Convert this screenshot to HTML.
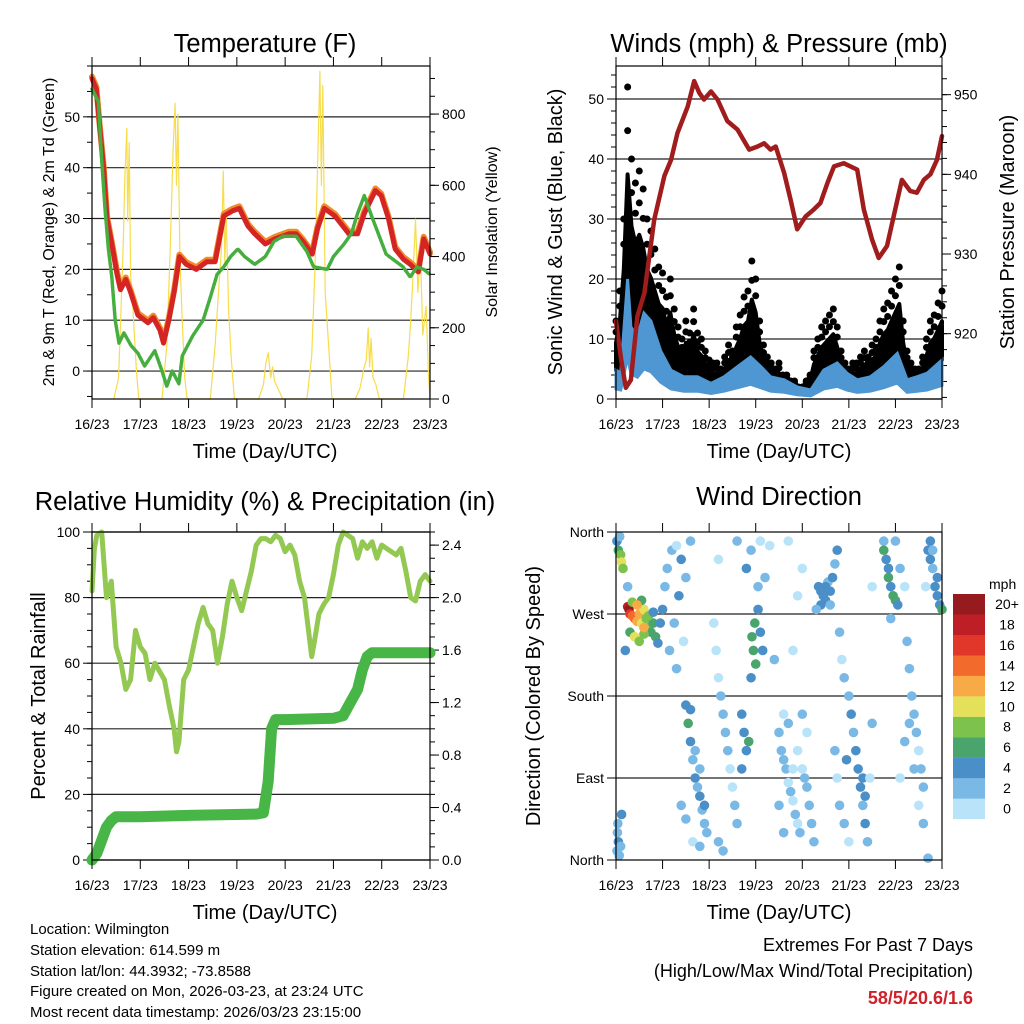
<!DOCTYPE html>
<html><head><meta charset="utf-8"><style>
html,body{margin:0;padding:0;background:#fff}
svg{display:block;font-family:"Liberation Sans",sans-serif}
</style></head><body>
<svg id="c" width="1024" height="1024" viewBox="0 0 1024 1024" xmlns="http://www.w3.org/2000/svg">
<g font-size="25.5" text-anchor="middle">
<text x="265" y="52">Temperature (F)</text>
<text x="779" y="52">Winds (mph) &amp; Pressure (mb)</text>
<text x="265" y="510">Relative Humidity (%) &amp; Precipitation (in)</text>
<text x="779" y="505">Wind Direction</text>
</g>
<g font-size="20" text-anchor="middle">
<text x="265" y="458">Time (Day/UTC)</text>
<text x="779" y="458">Time (Day/UTC)</text>
<text x="265" y="919">Time (Day/UTC)</text>
<text x="779" y="919">Time (Day/UTC)</text>
<text transform="translate(54,232) rotate(-90)" font-size="16">2m &amp; 9m T (Red, Orange) &amp; 2m Td (Green)</text>
<text transform="translate(497,232) rotate(-90)" font-size="16">Solar Insolation (Yellow)</text>
<text transform="translate(562,232) rotate(-90)">Sonic Wind &amp; Gust (Blue, Black)</text>
<text transform="translate(1014,232) rotate(-90)">Station Pressure (Maroon)</text>
<text transform="translate(45,696) rotate(-90)">Percent &amp; Total Rainfall</text>
<text transform="translate(540,696) rotate(-90)">Direction (Colored By Speed)</text>
</g>
<g font-size="15">
<text x="30" y="934">Location: Wilmington</text>
<text x="30" y="955">Station elevation: 614.599 m</text>
<text x="30" y="976">Station lat/lon: 44.3932; -73.8588</text>
<text x="30" y="996">Figure created on Mon, 2026-03-23, at 23:24 UTC</text>
<text x="30" y="1017">Most recent data timestamp: 2026/03/23 23:15:00</text>
</g>
<g font-size="18" text-anchor="end">
<text x="973" y="951">Extremes For Past 7 Days</text>
<text x="973" y="977">(High/Low/Max Wind/Total Precipitation)</text>
<text x="973" y="1004" fill="#d0202a" font-weight="bold">58/5/20.6/1.6</text>
</g>
</svg>
<script>
// ---------- DATA ----------
const dayLabels=["16/23","17/23","18/23","19/23","20/23","21/23","22/23","23/23"];
const tempT=[0,0.09,0.16,0.24,0.31,0.41,0.52,0.59,0.7,0.8,0.95,1.16,1.27,1.41,1.48,1.59,1.7,1.81,1.95,2.16,2.38,2.55,2.73,2.91,3.05,3.23,3.37,3.59,3.79,4.08,4.23,4.37,4.56,4.67,4.81,5.03,5.32,5.5,5.64,5.87,5.99,6.14,6.28,6.45,6.59,6.76,6.87,7.0];
const tempV=[57.5,55.5,48,40,30,25,19,16,18,15.5,11,9.5,10.5,8,5.5,10,15.5,22.5,21,20,21.5,21.5,30.5,31.5,32,28.5,27,25,26,27,27,25.5,23,28,32,30.5,27,27,31,35.5,34.5,30,24,22,21,19.5,26,23];
const dewT=[0,0.13,0.2,0.27,0.34,0.41,0.48,0.56,0.66,0.81,0.95,1.09,1.16,1.3,1.45,1.55,1.66,1.8,1.87,2.09,2.3,2.45,2.59,2.73,2.87,3.02,3.16,3.37,3.59,3.77,3.95,4.23,4.45,4.59,4.87,5.0,5.22,5.37,5.5,5.64,5.79,6.09,6.23,6.44,6.59,6.73,6.87,7.0];
const dewV=[55.5,53,41.5,32,24,18.5,10,5.5,7.5,5,3.5,1,2,4,0,-3,0,-2.5,3,7,10,14.5,19,20.5,22.5,24,22.5,21,22.5,25.5,26.5,26.5,23.5,20.5,20,22.5,25,27,31,34.5,30.5,23,22,20.5,18.5,20.5,20,19];
const solarT=[0.45,0.55,0.6,0.65,0.68,0.72,0.74,0.77,0.8,0.85,0.92,0.97,1.45,1.55,1.62,1.68,1.72,1.75,1.78,1.82,1.86,1.92,1.97,2.45,2.55,2.62,2.68,2.72,2.75,2.78,2.83,2.88,2.95,3.45,3.55,3.6,3.65,3.7,3.74,3.78,3.85,3.95,4.45,4.55,4.62,4.68,4.72,4.75,4.78,4.83,4.9,4.97,5.45,5.55,5.62,5.68,5.72,5.75,5.78,5.82,5.88,5.95,6.45,6.55,6.6,6.65,6.7,6.75,6.8,6.85,6.92,6.97,7.0];
const solarV=[0,60,250,450,620,760,500,720,350,250,80,0,0,150,420,700,830,600,800,400,250,60,0,0,150,300,420,640,380,520,250,120,0,0,40,100,130,60,90,50,30,0,0,120,380,700,920,600,880,300,150,0,0,30,80,110,200,90,170,60,40,0,0,120,220,350,505,300,420,180,260,60,0];
const susT=[0,0.1,0.25,0.32,0.46,0.6,0.75,0.96,1.18,1.46,1.75,2.04,2.32,2.61,2.89,3.11,3.32,3.61,3.89,4.18,4.46,4.75,4.96,5.18,5.46,5.75,6.04,6.25,6.46,6.68,7.0];
const susV=[4.8,4.3,20,12,10.4,14.3,13,8,4.8,3.7,3.7,2.6,3.7,5.4,7,5.4,3.7,3.2,2,1.5,4.8,6,4.3,3.2,3.7,5.4,7.6,3.2,3.7,4.3,6.5];
const gustV=[13,18,30,52,40,36,38,35,30,28,25,22,21,17,20,15,12,10,13,11,15,11,10,8,6.5,6,6,5,7,9,8,12,14,17,18,23,20,13,9,7,6,5,6,4,4,3,3,2,2,3,4,8,10,12,13,14,15,12,8,6,5,6,6,7,8,7,9,10,13,15,16,18,20,22,13,8,6,5,5,7,10,13,14,16,18];
const presT=[0,0.11,0.21,0.32,0.46,0.61,0.82,1.04,1.18,1.32,1.54,1.68,1.79,1.89,2.04,2.18,2.39,2.61,2.86,3.04,3.18,3.32,3.43,3.61,3.75,3.89,4.07,4.25,4.39,4.54,4.68,4.89,5.18,5.32,5.5,5.64,5.82,5.96,6.14,6.32,6.46,6.61,6.75,6.89,7.0];
const presV=[921.6,916.8,913.2,914.2,922.2,925.1,934.3,939.8,941.8,945.2,948.5,951.7,950.2,949.4,950.4,949.4,946.7,945.6,943.1,943.5,943.9,943.1,943.5,940.2,936.8,933.1,934.7,935.6,936.4,938.9,941,941.4,940.6,935.6,931.8,929.5,931,934.7,939.3,937.9,937.7,939.3,940,941.8,944.8];
const rhT=[0,0.05,0.1,0.2,0.3,0.4,0.5,0.6,0.7,0.8,0.9,1,1.1,1.2,1.3,1.5,1.6,1.7,1.75,1.8,1.9,2,2.1,2.2,2.3,2.4,2.5,2.6,2.7,2.8,2.9,3,3.1,3.2,3.3,3.4,3.5,3.6,3.7,3.8,3.9,4,4.1,4.2,4.3,4.4,4.5,4.55,4.6,4.7,4.8,4.9,5,5.1,5.2,5.3,5.4,5.5,5.6,5.7,5.8,5.9,6,6.1,6.2,6.3,6.4,6.5,6.6,6.7,6.8,6.9,7];
const rhV=[82,95,99,100,80,85,65,60,52,55,70,65,63,55,60,55,47,40,33,36,55,58,65,72,77,72,70,60,68,78,85,80,76,82,88,96,98,98,97,99,98,94,96,93,85,80,68,62,66,75,78,80,87,96,100,99,98,92,97,95,97,92,96,95,94,93,95,88,80,79,85,87,85];
const rainT=[0,0.1,0.2,0.3,0.4,0.5,1,2,3.4,3.55,3.65,3.72,3.8,4,5,5.2,5.35,5.5,5.6,5.7,5.8,7];
const rainV=[0,0.05,0.15,0.25,0.3,0.33,0.33,0.34,0.35,0.36,0.6,1.0,1.07,1.07,1.08,1.1,1.2,1.3,1.45,1.55,1.58,1.58];
const dirT=[0.02,0.05,0.1,0.12,0.15,0.08,0.03,0.05,0.02,0.07,0.1,0.04,0.12,
0.25,0.28,0.3,0.35,0.4,0.45,0.5,0.55,0.6,0.65,0.7,0.75,0.8,0.85,0.9,0.3,0.4,0.5,0.6,0.7,0.8,0.95,1.0,0.35,0.55,0.25,0.2,0.45,0.6,
1.05,1.1,1.2,1.3,1.15,1.25,1.35,1.4,1.5,1.6,1.45,1.3,1.5,1.55,1.6,1.65,1.7,1.75,1.8,1.85,1.9,1.95,1.6,1.7,1.8,1.9,1.65,1.8,1.5,1.4,
2.1,2.15,2.2,2.25,2.3,2.35,2.4,2.45,2.5,2.55,2.6,2.2,2.3,2.7,2.75,2.8,2.85,2.7,2.9,2.95,2.98,2.92,3.0,3.05,3.1,3.15,2.8,2.9,3.05,3.2,3.1,2.6,2.2,
3.5,3.55,3.6,3.65,3.7,3.75,3.8,3.85,3.9,3.95,4.0,4.05,4.1,4.15,4.2,3.6,3.7,4.0,4.1,3.9,3.8,3.5,3.6,4.25,3.4,3.8,3.9,4.0,3.7,3.3,
4.35,4.4,4.45,4.5,4.55,4.6,4.65,4.7,4.75,4.4,4.5,4.6,4.3,4.8,4.85,4.9,5.0,5.05,5.1,5.15,5.2,5.25,5.3,5.35,5.4,4.7,4.75,4.8,4.9,5.0,4.95,5.3,5.35,5.45,5.5,5.5,
5.75,5.8,5.85,5.9,5.95,6.0,5.85,5.75,6.05,5.9,6.0,6.1,6.2,6.25,6.3,6.35,6.4,6.45,6.5,6.55,6.6,6.3,6.4,6.5,6.6,6.2,6.1,
6.7,6.75,6.8,6.85,6.9,6.95,7.0,6.8,6.9,6.75,6.65,6.7];
const dirDeg=[350,340,335,327,320,355,30,20,10,5,15,40,50,
278,275,270,268,265,262,270,260,275,265,255,250,260,245,238,250,245,240,248,268,272,260,275,283,285,300,230,280,255,
300,320,340,345,230,260,290,330,310,350,240,210,170,150,130,110,90,80,70,55,40,30,165,120,100,60,20,15,45,60,
260,230,200,180,160,140,120,100,80,60,40,20,10,160,140,120,130,100,200,230,260,245,215,275,250,230,320,340,300,310,350,350,330,
140,120,110,100,85,75,65,50,40,30,100,90,80,60,40,160,150,160,140,120,100,60,30,20,220,230,290,320,350,345,
300,295,290,285,305,295,310,325,340,280,300,280,275,250,220,200,180,160,140,120,100,80,60,40,20,120,90,60,40,20,110,90,70,90,300,150,
350,330,320,300,290,285,310,340,280,265,350,320,300,240,210,180,160,140,120,100,80,150,100,60,40,130,90,
340,330,320,300,290,280,275,340,310,350,300,2];
const dirSpd=[4,7,8,10,8,3,3,4,3,2,3,2,4,
18,20,16,15,14,12,13,11,10,9,8,7,6,6,5,7,10,8,9,8,5,4,4,8,6,3,4,12,12,
3,2,3,1,3,2,4,4,2,3,1,2,4,6,4,3,4,3,4,2,3,2,5,3,2,4,1,2,2,3,
1,1,1,2,2,2,3,1,1,2,2,3,2,4,4,5,6,4,4,7,7,6,6,5,4,4,4,3,3,2,1,2,1,
2,2,3,2,1,2,1,2,1,3,1,2,2,3,2,1,2,2,1,1,1,3,2,3,2,1,1,1,1,1,
4,4,4,4,3,4,4,3,4,4,5,3,2,2,1,2,3,4,3,4,4,4,3,4,2,3,1,2,2,1,4,5,4,1,1,3,
3,5,4,5,7,6,6,6,4,3,3,2,1,2,2,2,3,2,1,3,2,3,2,1,3,2,1,
4,4,3,4,4,5,6,3,4,4,1,3];
const cbLabels=["0","2","4","6","8","10","12","14","16","18","20+"];
const cbColors=["#b9e3f9","#7ab9e5","#4a8fc7","#4aa56c","#7cc24c","#e5e05a","#f8aa46","#f26a2c","#e0372a","#be1e25","#961b1f"];

// ---------- HELPERS ----------
const NS="http://www.w3.org/2000/svg";
const svg=document.getElementById('c');
function mk(tag,attrs,parent){const e=document.createElementNS(NS,tag);for(const k in attrs)e.setAttribute(k,attrs[k]);(parent||svg).appendChild(e);return e;}
function panel(x0,x1,y0,y1,name){
  const g=mk('g',{});
  
  
  return {x0,x1,y0,y1,g,tx:t=>x0+t*(x1-x0)/7};
}
function xAxis(p){
  for(let i=0;i<8;i++){
    const x=p.tx(i);
    mk('line',{x1:x,x2:x,y1:p.y0-9,y2:p.y0,stroke:'#000','stroke-width':1},p.g);
    const tk=mk('line',{x1:x,x2:x,y1:p.y1,y2:p.y1+9,stroke:'#000','stroke-width':1},p.g);
    
    
    const t=mk('text',{x:x,y:p.y1+30,'font-size':14,'text-anchor':'middle'},p.g);
    t.textContent=dayLabels[i];
    
    
  }
}
function yAxis(p,side,vmin,vmax,majors,minorStep,grid,fmt){
  const sy=v=>p.y1-(v-vmin)/(vmax-vmin)*(p.y1-p.y0);
  const xe=side==='l'?p.x0:p.x1, d=side==='l'?-1:1;
  for(let v=Math.ceil(vmin/minorStep)*minorStep;v<=vmax+1e-9;v+=minorStep){
    const y=sy(v); mk('line',{x1:xe,x2:xe+d*5,y1:y,y2:y,stroke:'#000','stroke-width':1},p.g);
  }
  majors.forEach(v=>{
    const y=sy(v);
    if(grid) mk('line',{x1:p.x0,x2:p.x1,y1:y,y2:y,stroke:'#222','stroke-width':1.2},p.g);
    mk('line',{x1:xe,x2:xe+d*9,y1:y,y2:y,stroke:'#000','stroke-width':1},p.g);
    const t=mk('text',{x:xe+d*12,y:y+5,'font-size':14,'text-anchor':side==='l'?'end':'start'},p.g);
    t.textContent=fmt?fmt(v):String(v);
    
    
  });
  return sy;
}
function frame(p){const r=mk('rect',{x:p.x0,y:p.y0,width:p.x1-p.x0,height:p.y1-p.y0,fill:'none',stroke:'#000','stroke-width':1.2},p.g);}
function line(p,T,V,sy,color,w,name){
  const pts=T.map((t,i)=>p.tx(t).toFixed(1)+','+sy(V[i]).toFixed(1)).join(' ');
  const l=mk('polyline',{points:pts,fill:'none',stroke:color,'stroke-width':w,'stroke-linejoin':'round','stroke-linecap':'round'},p.g);
  
  
  return l;
}

// ---------- PANEL 1: TEMPERATURE ----------
const p1=panel(92,430,66,399,'temperature-panel');
const syT=yAxis(p1,'l',-5.5,60,[0,10,20,30,40,50],5,true);
const syS=yAxis(p1,'r',0,935,[0,200,400,600,800],50,false);
line(p1,solarT,solarV,syS,'#f7dc4c',1.2,'solar-insolation-line');
line(p1,tempT,tempV.map(v=>v+0.4),syT,'#f28a2a',6,'temp-9m-line');
line(p1,tempT,tempV,syT,'#d42424',5,'temp-2m-line');
const dl=line(p1,dewT,dewV,syT,'#45ae3f',3.5,'dewpoint-line');
dl.setAttribute('stroke-dasharray','3 1.5');
xAxis(p1);frame(p1);

// ---------- PANEL 2: WINDS ----------
const p2=panel(616,942,66,399,'winds-panel');
const syW=yAxis(p2,'l',0,55.5,[0,10,20,30,40,50],2,true);
const syP=yAxis(p2,'r',911.8,953.6,[920,930,940,950],2,false);
const gustT=gustV.map((v,i)=>i/12);
(function(){
  const top=gustT.map((t,i)=>p2.tx(t).toFixed(1)+','+syW(gustV[i]*0.72).toFixed(1));
  const bot=susT.slice().reverse().map((t,j)=>{const i=susT.length-1-j;return p2.tx(t).toFixed(1)+','+syW(susV[i]).toFixed(1);});
  const pg=mk('polygon',{points:top.concat(bot).join(' '),fill:'#000',stroke:'#000','stroke-width':4,'stroke-linejoin':'round'},p2.g);
  
  
})();
gustT.forEach((t,i)=>{
  [1,0.86].forEach(f=>{
    const c=mk('circle',{cx:p2.tx(t),cy:syW(gustV[i]*f),r:3.5,fill:'#000'},p2.g);
    
    
  });
});
(function(){
  const top=susT.map((t,i)=>p2.tx(t).toFixed(1)+','+syW(susV[i]).toFixed(1));
  const bot=susT.slice().reverse().map((t,j)=>{const i=susT.length-1-j;return p2.tx(t).toFixed(1)+','+syW(Math.max(0.5,susV[i]*0.35)).toFixed(1);});
  const pg=mk('polygon',{points:top.concat(bot).join(' '),fill:'#4f97d2',stroke:'#4f97d2','stroke-width':3},p2.g);
  
  
})();
line(p2,presT,presV,syP,'#a11c1c',4.5,'pressure-line');
xAxis(p2);frame(p2);

// ---------- PANEL 3: HUMIDITY ----------
const p3=panel(92,430,532,860,'humidity-panel');
const syH=yAxis(p3,'l',0,100,[0,20,40,60,80,100],5,true);
const syR=yAxis(p3,'r',0,2.5,[0,0.4,0.8,1.2,1.6,2.0,2.4],0.1,false,v=>v.toFixed(1));
line(p3,rhT,rhV,syH,'#93c952',5,'humidity-line');
line(p3,rainT,rainV,syR,'#48b547',11,'rainfall-line');
xAxis(p3);frame(p3);

// ---------- PANEL 4: WIND DIRECTION ----------
const p4=panel(616,942,532,860,'wind-direction-panel');
const syD=v=>p4.y1-v/360*(p4.y1-p4.y0);
["North","East","South","West","North"].forEach((lab,i)=>{
  const v=i*90,y=syD(v);
  if(i>0&&i<4) mk('line',{x1:p4.x0,x2:p4.x1,y1:y,y2:y,stroke:'#222','stroke-width':1.2},p4.g);
  mk('line',{x1:p4.x0-9,x2:p4.x0,y1:y,y2:y,stroke:'#000'},p4.g);
  const t=mk('text',{x:p4.x0-12,y:y+5,'font-size':14,'text-anchor':'end'},p4.g);
  t.textContent=lab;
  
  
});
dirT.forEach((t,i)=>{
  const k=Math.min(10,Math.floor(dirSpd[i]/2));
  const c=mk('circle',{cx:p4.tx(t),cy:syD(dirDeg[i]),r:4.8,fill:cbColors[k]},p4.g);
  
  
});
xAxis(p4);frame(p4);
const cb=mk('g',{});


const cbt=mk('text',{x:989,y:589,'font-size':14},cb);cbt.textContent='mph';


cbColors.forEach((col,i)=>{
  const y=594+(10-i)*20.45;
  const r=mk('rect',{x:953,y:y,width:32,height:20.6,fill:col},cb);
  
  
  const t=mk('text',{x:1007,y:y+15,'font-size':14,'text-anchor':'middle'},cb);
  t.textContent=cbLabels[i];
  
  
});
</script>
</body></html>
